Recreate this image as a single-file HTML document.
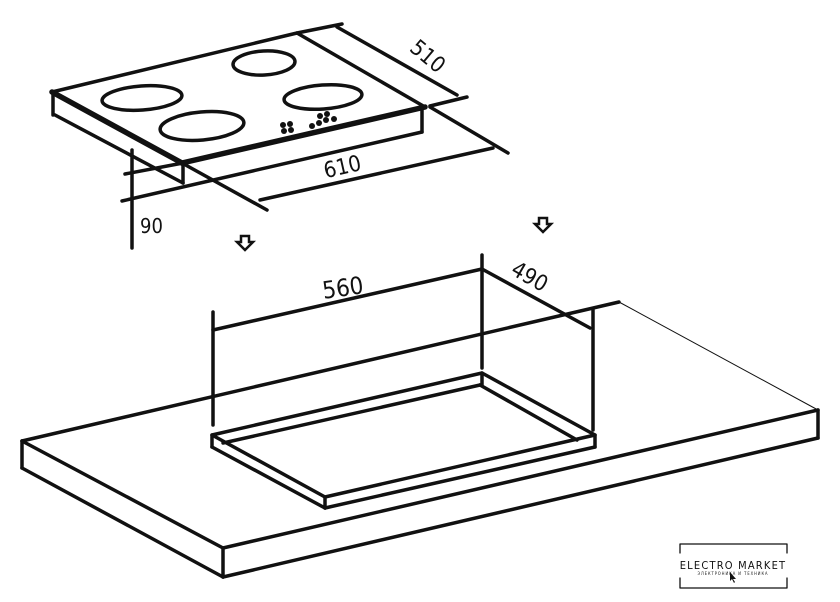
<!DOCTYPE html>
<html><head><meta charset="utf-8"><style>
html,body{margin:0;padding:0;background:#fff;width:840px;height:602px;overflow:hidden}
svg{display:block}
text{font-family:"DejaVu Sans Condensed","Liberation Sans",sans-serif;fill:#111}
</style></head><body>
<svg width="840" height="602" viewBox="0 0 840 602" xmlns="http://www.w3.org/2000/svg">
<g stroke="#111" stroke-width="3.5" fill="none" stroke-linecap="round" stroke-linejoin="round">
<!-- Hob -->
<polygon points="52,92 297,33 425,107 182,163" fill="#fff"/>
<line x1="52" y1="92" x2="182" y2="163" stroke-width="5.5"/>
<line x1="182" y1="163" x2="425" y2="107" stroke-width="5.5"/>
<line x1="297" y1="33" x2="342" y2="24"/>
<line x1="53" y1="92" x2="53" y2="115"/>
<line x1="55" y1="115" x2="183" y2="183"/>
<line x1="183" y1="163" x2="183" y2="183"/>
<line x1="422" y1="108" x2="422" y2="132"/>
<line x1="122" y1="201" x2="422" y2="132"/>
<line x1="125" y1="174" x2="183" y2="163"/>
<line x1="132" y1="150" x2="132" y2="248"/>
<line x1="182" y1="163" x2="267" y2="210"/>
<line x1="430" y1="107" x2="508" y2="153"/>
<line x1="430" y1="106" x2="467" y2="97"/>
<line x1="337" y1="27" x2="457" y2="95"/>
<line x1="260" y1="200" x2="493" y2="148"/>
<ellipse cx="142" cy="98" rx="40" ry="12" transform="rotate(-4 142 98)"/>
<ellipse cx="264" cy="63" rx="31" ry="12" transform="rotate(-3 264 63)"/>
<ellipse cx="323" cy="97" rx="39" ry="12" transform="rotate(-4 323 97)"/>
<ellipse cx="202" cy="126" rx="42" ry="14" transform="rotate(-5 202 126)"/>
<!-- Countertop -->
<line x1="22" y1="441" x2="619" y2="302"/>
<line x1="22" y1="441" x2="223" y2="548"/>
<line x1="223" y1="548" x2="818" y2="410"/>
<line x1="22" y1="441" x2="22" y2="468"/>
<line x1="22" y1="468" x2="223" y2="577"/>
<line x1="223" y1="548" x2="223" y2="577"/>
<line x1="223" y1="577" x2="818" y2="438"/>
<line x1="818" y1="410" x2="818" y2="438"/>
<line x1="619" y1="302" x2="818" y2="410" stroke-width="1"/>
<!-- Cutout -->
<polygon points="212,435 482,373 595,435 325,497"/>
<line x1="212" y1="435" x2="212" y2="447"/>
<line x1="212" y1="447" x2="325" y2="508"/>
<line x1="325" y1="497" x2="325" y2="508"/>
<line x1="325" y1="508" x2="595" y2="447"/>
<line x1="595" y1="435" x2="595" y2="447"/>
<line x1="223" y1="443" x2="480" y2="385"/>
<line x1="480" y1="385" x2="577" y2="440"/>
<line x1="482" y1="373" x2="482" y2="385"/>
<!-- dims -->
<line x1="213" y1="312" x2="213" y2="425"/>
<line x1="482" y1="255" x2="482" y2="368"/>
<line x1="593" y1="310" x2="593" y2="430"/>
<line x1="213" y1="330" x2="482" y2="269"/>
<line x1="482" y1="269" x2="590" y2="328"/>
<!-- logo -->
<g stroke-width="1.3">
<polyline points="680,553 680,544 787,544 787,553"/>
<polyline points="680,578 680,588 787,588 787,578"/>
</g>
</g>
<g fill="#111">
<circle cx="283" cy="125" r="3"/><circle cx="290" cy="124" r="3"/><circle cx="284" cy="131" r="3"/><circle cx="291" cy="130" r="3"/>
<circle cx="312" cy="126" r="3"/><circle cx="319" cy="123" r="3"/><circle cx="326" cy="120" r="3"/><circle cx="320" cy="116" r="3"/><circle cx="327" cy="114" r="3"/><circle cx="334" cy="119" r="3"/>
<path d="M241,236 h8 v6 h4 l-8,8 l-8,-8 h4 z" fill="none" stroke="#111" stroke-width="2.5"/>
<path d="M539,218 h8 v6 h4 l-8,8 l-8,-8 h4 z" fill="none" stroke="#111" stroke-width="2.5"/>
</g>
<text x="423" y="62" font-size="22" transform="rotate(40 423 62)" text-anchor="middle">510</text>
<text x="344" y="174" font-size="22" transform="rotate(-13 344 174)" text-anchor="middle">610</text>
<text x="140" y="233" font-size="20">90</text>
<text x="344" y="296" font-size="24" transform="rotate(-8 344 296)" text-anchor="middle">560</text>
<text x="526" y="283" font-size="22" transform="rotate(30 526 283)" text-anchor="middle">490</text>
<text x="733" y="569" font-size="11" text-anchor="middle" letter-spacing="1.2">ELECTRO MARKET</text>
<text x="733" y="575" font-size="4" text-anchor="middle" letter-spacing="1">ЭЛЕКТРОНИКА И ТЕХНИКА</text>
<path d="M730,572 l0,9 l2,-2 l2,4 l1,-1 l-2,-3 l3,0 z" fill="#111"/>
</svg>
</body></html>
